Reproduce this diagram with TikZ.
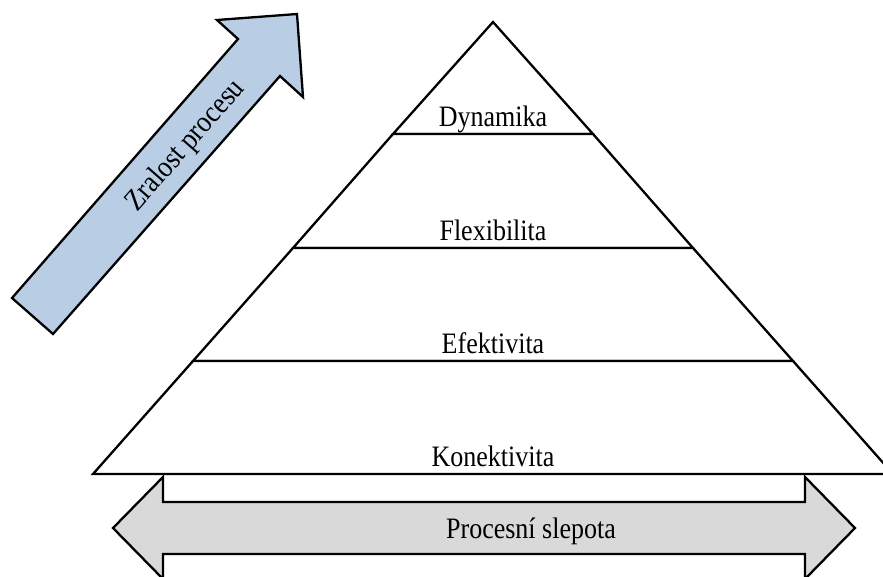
\documentclass[tikz,border=0pt]{standalone}
\usepackage{fontspec}
\setmainfont{Liberation Serif}
% slightly tall lettering
\newcommand{\talltext}[1]{\scalebox{1}[1.14]{#1}}
\begin{document}
\begin{tikzpicture}[x=1pt,y=-1pt,
  outline/.style={draw=black,line width=2.3pt,line join=miter},
  layer/.style={outline,fill=white},
  label/.style={font=\fontsize{26}{30}\selectfont,inner sep=0pt,anchor=base}]
\useasboundingbox (0,0) rectangle (883,576);
\clip (0,0) rectangle (883,576);

% maturity arrow pointing up and to the right
\draw[outline,fill={rgb,255:red,185;green,205;blue,229}]
  (12,298) -- (238,39) -- (217,20) -- (297,14) -- (303,97)
  -- (280,76) -- (53,334) -- cycle;
\node[font=\fontsize{26.5}{30}\selectfont,inner sep=0pt,rotate=48.7]
  (zralost) at (186,146) {\talltext{Zralost procesu}};

% pyramid levels, top to bottom
\draw[layer] (493,22) -- (593,134) -- (393,134) -- cycle;
\draw[layer] (393,134) -- (593,134) -- (693,248) -- (293,248) -- cycle;
\draw[layer] (293,248) -- (693,248) -- (793,361) -- (193,361) -- cycle;
\draw[layer] (193,361) -- (793,361) -- (893,474) -- (93,474) -- cycle;

\node[label] (dyn) at (493,126) {\talltext{Dynamika}};
\node[label] (flex) at (493,240) {\talltext{Flexibilita}};
\node[label] (efek) at (493,353) {\talltext{Efektivita}};
\node[label] (kon) at (493,466) {\talltext{Konektivita}};

% double-headed arrow under the pyramid
\draw[outline,fill={rgb,255:red,217;green,217;blue,217}]
  (113,528) -- (163,477) -- (163,502) -- (805,502) -- (805,477)
  -- (855,528) -- (805,579) -- (805,554) -- (163,554) -- (163,579) -- cycle;
\node[label] (slep) at (531,538) {\talltext{Procesní slepota}};
\end{tikzpicture}
\end{document}
